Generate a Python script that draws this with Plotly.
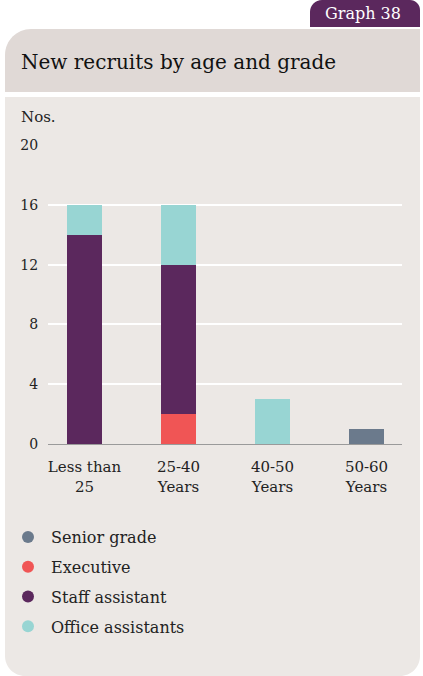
import plotly.graph_objects as go

W, H = 423, 676

categories = ["Less than<br>25", "25-40<br>Years", "40-50<br>Years", "50-60<br>Years"]
senior_grade = [0, 0, 0, 1]
executive = [0, 2, 0, 0]
staff_assistant = [14, 10, 0, 0]
office_assistants = [2, 4, 3, 0]
y_ticks = [0, 4, 8, 12, 16, 20]

series = [
    ("Senior grade", senior_grade, "#6b7a8c"),
    ("Executive", executive, "#f05555"),
    ("Staff assistant", staff_assistant, "#5b285d"),
    ("Office assistants", office_assistants, "#98d5d3"),
]

FONT = "DejaVu Serif"


def px(x):
    return x / W


def py(y):
    return 1 - y / H


def rounded_rect(x0, y0, x1, y1, tl=0, tr=0, br=0, bl=0):
    k = 0.5523
    p = []
    p.append(f"M{px(x0 + tl)},{py(y0)}")
    p.append(f"L{px(x1 - tr)},{py(y0)}")
    if tr:
        p.append(f"C{px(x1 - tr + tr * k)},{py(y0)} {px(x1)},{py(y0 + tr - tr * k)} {px(x1)},{py(y0 + tr)}")
    p.append(f"L{px(x1)},{py(y1 - br)}")
    if br:
        p.append(f"C{px(x1)},{py(y1 - br + br * k)} {px(x1 - br + br * k)},{py(y1)} {px(x1 - br)},{py(y1)}")
    p.append(f"L{px(x0 + bl)},{py(y1)}")
    if bl:
        p.append(f"C{px(x0 + bl - bl * k)},{py(y1)} {px(x0)},{py(y1 - bl + bl * k)} {px(x0)},{py(y1 - bl)}")
    p.append(f"L{px(x0)},{py(y0 + tl)}")
    if tl:
        p.append(f"C{px(x0)},{py(y0 + tl - tl * k)} {px(x0 + tl - tl * k)},{py(y0)} {px(x0 + tl)},{py(y0)}")
    p.append("Z")
    return " ".join(p)


fig = go.Figure()

xpos = list(range(len(categories)))
for name, vals, color in series:
    fig.add_trace(go.Bar(
        x=xpos, y=vals, name=name, marker=dict(color=color, line=dict(width=0)),
        width=0.372, showlegend=False, hoverinfo="skip",
    ))
for i, (name, vals, color) in enumerate(series):
    fig.add_trace(go.Scatter(
        x=[None], y=[None], mode="markers", name=name, legendgroup=f"g{i}",
        marker=dict(color=color, size=12, symbol="circle"),
    ))

shapes = [
    # tab
    dict(type="path", path=rounded_rect(310, 0, 420, 27, tl=12, tr=10),
         fillcolor="#5b285d", line=dict(width=0), xref="paper", yref="paper", layer="below"),
    # header
    dict(type="path", path=rounded_rect(5, 29, 420, 92, tl=26),
         fillcolor="#e0d9d6", line=dict(width=0), xref="paper", yref="paper", layer="below"),
    # body
    dict(type="path", path=rounded_rect(5, 97, 420, 676, br=20, bl=20),
         fillcolor="#ece8e5", line=dict(width=0), xref="paper", yref="paper", layer="below"),
]

annotations = [
    dict(text="Graph 38", x=px(363), y=py(14), xref="paper", yref="paper",
         showarrow=False, font=dict(family=FONT, size=16, color="white"),
         xanchor="center", yanchor="middle"),
    dict(text="New recruits by age and grade", x=px(19), y=py(62), xref="paper", yref="paper",
         showarrow=False, font=dict(family=FONT, size=20, color="#111111"),
         xanchor="left", yanchor="middle"),
    dict(text="Nos.", x=px(19), y=py(117), xref="paper", yref="paper",
         showarrow=False, font=dict(family=FONT, size=15, color="#222222"),
         xanchor="left", yanchor="middle"),
]

x_left, x_right = 48, 402
c0, step = 84.5, 94.0
xr = [(x_left - c0) / step, (x_right - c0) / step]

fig.update_layout(
    width=W, height=H,
    margin=dict(l=0, r=0, t=0, b=0, pad=0, autoexpand=False),
    paper_bgcolor="white",
    plot_bgcolor="rgba(0,0,0,0)",
    barmode="stack",
    bargap=0,
    shapes=shapes,
    annotations=annotations,
    font=dict(family=FONT, color="#222222"),
    hovermode=False,
    xaxis=dict(
        domain=[px(x_left), px(x_right)],
        range=xr,
        tickmode="array", tickvals=xpos, ticktext=categories,
        showgrid=False, zeroline=False,
        showline=True, linecolor="#9a9a9a", linewidth=1,
        ticks="outside", ticklen=9, tickcolor="rgba(0,0,0,0)",
        tickfont=dict(family=FONT, size=15, color="#222222"),
        fixedrange=True,
    ),
    yaxis=dict(
        domain=[py(444), py(145)],
        range=[0, 20],
        tickmode="array", tickvals=y_ticks,
        showgrid=True, gridcolor="#ffffff", gridwidth=1.5,
        zeroline=False, showline=False,
        ticks="outside", ticklen=6, tickcolor="rgba(0,0,0,0)",
        tickfont=dict(family=FONT, size=14, color="#222222"),
        fixedrange=True,
    ),
    legend=dict(
        x=px(5), y=py(520), xanchor="left", yanchor="top",
        traceorder="grouped", tracegroupgap=6, bgcolor="rgba(0,0,0,0)",
        itemwidth=36,
        font=dict(family=FONT, size=16, color="#222222"),
        itemclick=False, itemdoubleclick=False,
    ),
)

fig.write_html(
    "out.html",
    config={"displayModeBar": False},
    post_script="document.body.style.margin='0';",
)
